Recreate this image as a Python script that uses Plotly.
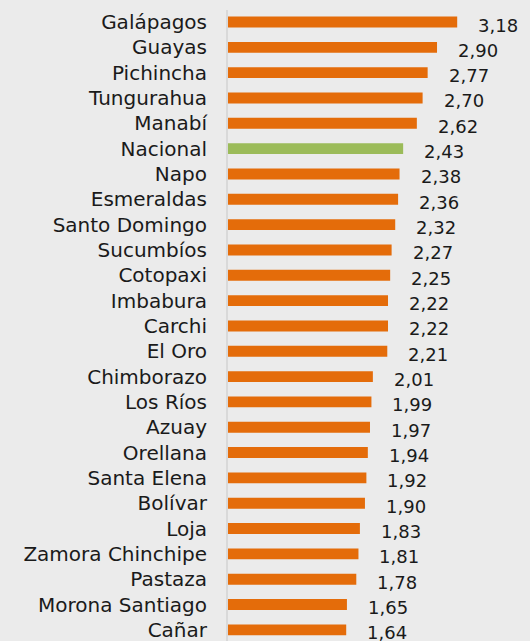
import plotly.graph_objects as go

provinces = ["Galápagos", "Guayas", "Pichincha", "Tungurahua", "Manabí", "Nacional",
             "Napo", "Esmeraldas", "Santo Domingo", "Sucumbíos", "Cotopaxi", "Imbabura",
             "Carchi", "El Oro", "Chimborazo", "Los Ríos", "Azuay", "Orellana",
             "Santa Elena", "Bolívar", "Loja", "Zamora Chinchipe", "Pastaza",
             "Morona Santiago", "Cañar"]
values = [3.18, 2.90, 2.77, 2.70, 2.62, 2.43, 2.38, 2.36, 2.32, 2.27, 2.25, 2.22,
          2.22, 2.21, 2.01, 1.99, 1.97, 1.94, 1.92, 1.90, 1.83, 1.81, 1.78, 1.65, 1.64]
highlight = "Nacional"

ORANGE = "#E46C0A"
GREEN = "#9BBB59"
colors = [GREEN if p == highlight else ORANGE for p in provinces]
labels = [f"{v:.2f}".replace(".", ",") for v in values]

FONT = "'DejaVu Sans', sans-serif"

fig = go.Figure(go.Bar(
    x=values, y=provinces, orientation="h",
    marker=dict(color=colors, line=dict(width=0)),
    width=0.43,
))

for p, v, t in zip(provinces, values, labels):
    fig.add_annotation(x=v, y=p, text=t, showarrow=False, xanchor="left",
                       xshift=19, yshift=-3,
                       font=dict(family=FONT, size=18, color="#1a1a1a"))

fig.update_layout(
    width=530, height=641,
    margin=dict(l=228, r=0, t=10, b=0, autoexpand=False),
    paper_bgcolor="#EBEBEB", plot_bgcolor="#EBEBEB",
    showlegend=False,
    font=dict(family=FONT, size=18, color="#1a1a1a"),
)
fig.update_xaxes(range=[0, 4.19], visible=False, showgrid=False, zeroline=False)
fig.update_yaxes(
    type="category", categoryorder="array", categoryarray=provinces,
    range=[24.44, -0.474], automargin=False,
    showline=True, linecolor="#D9D9D9", linewidth=2,
    ticks="", showgrid=False, zeroline=False,
    ticklabelstandoff=15,
    tickfont=dict(family=FONT, size=20, color="#1a1a1a"),
)

fig.write_html("out.html", config={"displayModeBar": False},
               post_script="document.body.style.margin='0';document.body.style.background='#EBEBEB';")
